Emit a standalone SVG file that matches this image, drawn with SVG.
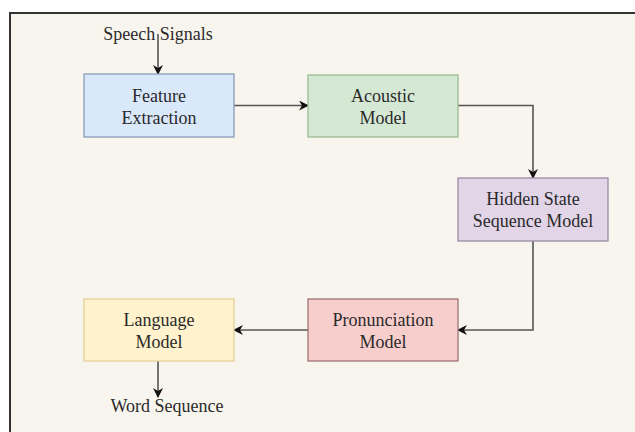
<svg xmlns="http://www.w3.org/2000/svg" width="635" height="432" viewBox="0 0 635 432">
  <defs>
    <marker id="arr" markerWidth="10" markerHeight="10" refX="9" refY="5" orient="auto" markerUnits="userSpaceOnUse">
      <path d="M0,0 L10,5 L0,10 L3,5 z" fill="#111"/>
    </marker>
    <style>
      .lbl { font-family: "Liberation Serif", "Times New Roman", serif; font-size: 18px; fill: #2a2a2a; text-anchor: middle; }
      .box { stroke-width: 1.3; }
      .conn { fill: none; stroke: #555; stroke-width: 1.6; marker-end: url(#arr); }
    </style>
  </defs>
  <rect x="0" y="0" width="635" height="432" fill="#ffffff"/>
  <rect x="10" y="13" width="630" height="430" fill="#f8f5ee"/>
  <path d="M10,432 L10,13 L635,13" fill="none" stroke="#333" stroke-width="2"/>

  <g id="connectors">
    <path class="conn" d="M158,34 L158,74"/>
    <path class="conn" d="M234,105.5 L308,105.5"/>
    <path class="conn" d="M458,105.5 L533,105.5 L533,178"/>
    <path class="conn" d="M533,241 L533,330 L458,330"/>
    <path class="conn" d="M308,330 L234,330"/>
    <path class="conn" d="M158,361 L158,397"/>
  </g>

  <g id="speech-signals">
    <text class="lbl" x="158" y="40">Speech Signals</text>
  </g>
  <g id="feature-extraction">
    <rect class="box" x="84" y="74" width="150" height="63" fill="#dae8fc" stroke="#8b9cb8"/>
    <text class="lbl" x="159" y="102">Feature</text>
    <text class="lbl" x="159" y="124">Extraction</text>
  </g>
  <g id="acoustic-model">
    <rect class="box" x="308" y="75" width="150" height="62" fill="#d5e8d4" stroke="#9cba93"/>
    <text class="lbl" x="383" y="102">Acoustic</text>
    <text class="lbl" x="383" y="124">Model</text>
  </g>
  <g id="hidden-state">
    <rect class="box" x="458" y="178" width="150" height="63" fill="#e1d5e7" stroke="#998aa3"/>
    <text class="lbl" x="533" y="205">Hidden State</text>
    <text class="lbl" x="533" y="227">Sequence Model</text>
  </g>
  <g id="pronunciation-model">
    <rect class="box" x="308" y="299" width="150" height="62" fill="#f8cecc" stroke="#9c7473"/>
    <text class="lbl" x="383" y="326">Pronunciation</text>
    <text class="lbl" x="383" y="348">Model</text>
  </g>
  <g id="language-model">
    <rect class="box" x="84" y="299" width="150" height="62" fill="#fff2cc" stroke="#e3d19a"/>
    <text class="lbl" x="159" y="326">Language</text>
    <text class="lbl" x="159" y="348">Model</text>
  </g>
  <g id="word-sequence">
    <text class="lbl" x="167" y="412">Word Sequence</text>
  </g>
</svg>
